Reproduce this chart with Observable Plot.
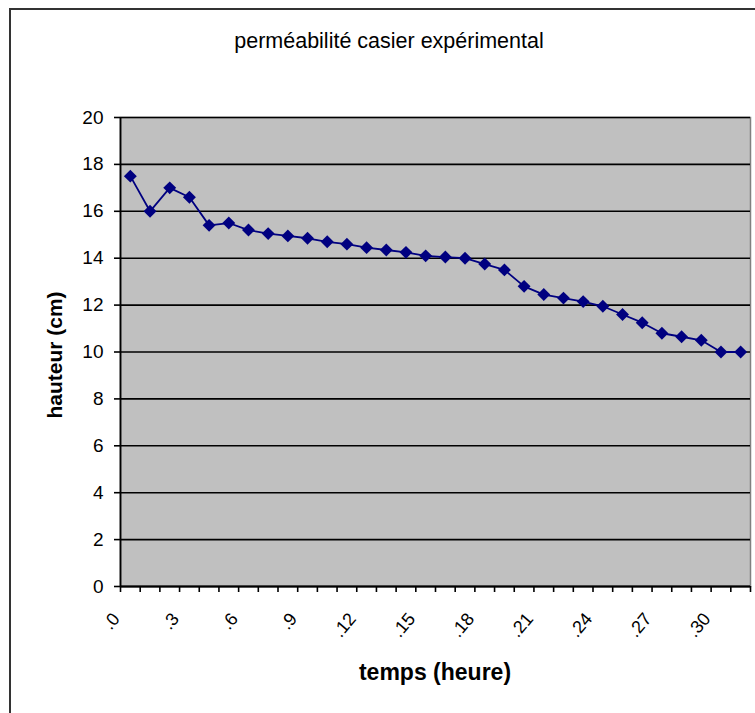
<!DOCTYPE html>
<html><head><meta charset="utf-8">
<script src="https://cdn.jsdelivr.net/npm/d3@7"></script>
<script src="https://cdn.jsdelivr.net/npm/@observablehq/plot@0.6"></script>
<style>
body{margin:0;overflow:hidden;background:#fff;font-family:"Liberation Sans",Arial,sans-serif;}
#wrap{position:relative;width:755px;height:713px;overflow:hidden;}
#border{position:absolute;left:9px;top:8px;width:800px;height:800px;border:2px solid #333;}
#chart{position:absolute;left:0;top:0;}
.t{position:absolute;white-space:nowrap;color:#000;line-height:1;}
</style></head><body>
<div id="wrap">
<div id="border"></div>
<div id="chart"></div>
<div class="t" style="left:389px;top:42px;transform:translate(-50%,-50%);font-size:21.5px">perméabilité casier expérimental</div>
<div class="t" style="left:54px;top:355px;transform:translate(-50%,-50%) rotate(-90deg);font-size:21px;font-weight:bold">hauteur (cm)</div>
<div class="t" style="left:435px;top:672px;transform:translate(-50%,-50%);font-size:23px;font-weight:bold">temps (heure)</div>
</div>
<script>
const hours = [0,1,2,3,4,5,6,7,8,9,10,11,12,13,14,15,16,17,18,19,20,21,22,23,24,25,26,27,28,29,30,31];
const hauteur = [17.5,16.0,17.0,16.6,15.4,15.5,15.2,15.05,14.95,14.85,14.7,14.6,14.45,14.35,14.25,14.1,
                 14.05,14.0,13.75,13.5,12.8,12.45,12.3,12.15,11.95,11.6,11.25,10.8,10.65,10.5,10.0,10.0];
const tickHours = [0,3,6,9,12,15,18,21,24,27,30];
const tickLabels = [".0",".3",".6",".9",".12",".15",".18",".21",".24",".27",".30"];
const yTicks = [0,2,4,6,8,10,12,14,16,18,20];

const data = hours.map((t,i)=>({t, h: hauteur[i]}));
const boundaries = hours.map(t=>t-0.5).concat([hours[hours.length-1]+0.5]);

const chart = Plot.plot({
  width: 755, height: 713,
  marginLeft: 120, marginRight: 5, marginTop: 117, marginBottom: 127,
  style: {fontFamily: "Liberation Sans, Arial, sans-serif", fontSize: "19px", background: "transparent", color: "#000"},
  x: {domain: [-0.5, 31.5]},
  y: {domain: [0, 20]},
  marks: [
    Plot.frame({fill: "#c0c0c0", stroke: "#808080", strokeWidth: 1.5}),
    Plot.gridY(yTicks, {stroke: "#000", strokeOpacity: 1, strokeWidth: 1.6}),
    Plot.axisY(yTicks, {tickSize: 6, tickPadding: 11, fontSize: 19, label: null, stroke: "#000", strokeWidth: 1.6}),
    Plot.axisX(boundaries, {tickSize: 6, tickFormat: () => "", label: null, stroke: "#000", strokeWidth: 1.6}),
    Plot.axisX(tickHours, {tickSize: 0, tickRotate: -50, tickPadding: 29, dx: -14,
      tickFormat: (d) => tickLabels[tickHours.indexOf(d)], fontSize: 18, label: null}),
    Plot.ruleX([-0.5], {stroke: "#000", strokeWidth: 1.8}),
    Plot.ruleY([0], {stroke: "#000", strokeWidth: 1.8}),
    Plot.line(data, {x: "t", y: "h", stroke: "#000080", strokeWidth: 1.8}),
    Plot.dot(data, {x: "t", y: "h", symbol: "diamond2", fill: "#000080", stroke: "none", r: 5.8})
  ]
});
document.getElementById("chart").appendChild(chart);
</script>
</body></html>
